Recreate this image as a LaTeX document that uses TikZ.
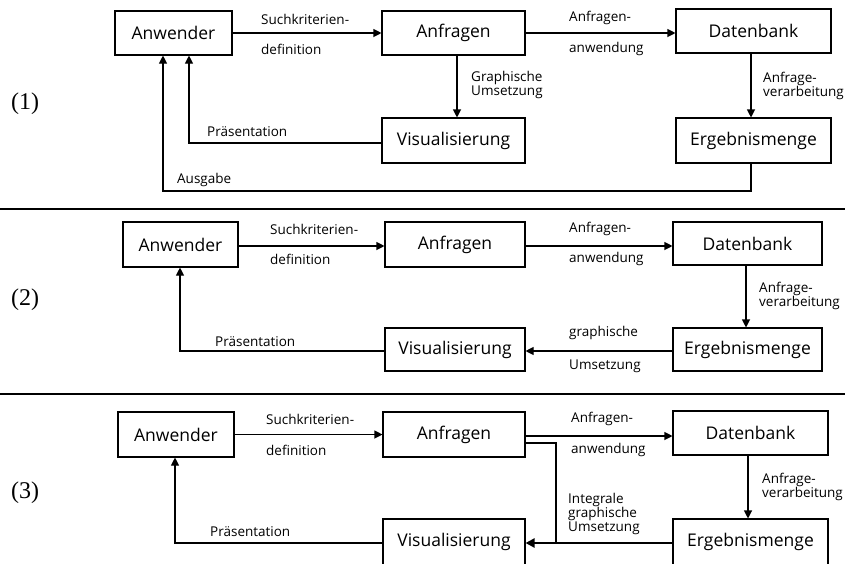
\documentclass[tikz,border=0pt]{standalone}
\usepackage{fontspec}
\setmainfont{Open Sans}
\newfontfamily\panelfont{Liberation Serif}
\usetikzlibrary{arrows.meta}
\begin{document}
\begin{tikzpicture}[x=1pt,y=-1pt,
  box/.style={draw,line width=1.1pt,minimum height=44pt,inner sep=0pt,
    font=\fontsize{17.5}{19}\selectfont},
  lbl/.style={anchor=west,inner sep=0pt,font=\fontsize{13.5}{12.5}\selectfont},
  stack/.style={lbl,align=left},
  flow/.style={line width=1.1pt},
  arr/.style={flow,-{Triangle[length=8pt,width=8pt]}},
  sep/.style={line width=2.4pt},
  panel/.style={anchor=west,inner sep=0pt,font=\panelfont\fontsize{24}{26}\selectfont}]
\useasboundingbox (0,0) rectangle (845,563);
\clip (0,0) rectangle (845,563);

% ---------- (1) ----------
\node[panel] (p1) at (11,104) {(1)};
\node[box,minimum width=117pt] (a1) at (173.5,33) {Anwender};
\node[box,minimum width=143pt] (q1) at (453.5,33) {Anfragen};
\node[box,minimum width=155pt] (d1) at (753.5,31) {Datenbank};
\node[box,minimum width=143pt,minimum height=45pt] (v1) at (453.5,140.5) {Visualisierung};
\node[box,minimum width=155pt,minimum height=45pt] (e1) at (753.5,140.5) {Ergebnismenge};

\draw[arr] (a1.east) -- (q1.west);
\draw[arr] (q1.east) -- (q1.east -| d1.west);
\draw[arr] ([xshift=3.5pt]q1.south) -- ([xshift=3.5pt]v1.north);
\draw[arr] ([xshift=-2.5pt]d1.south) -- ([xshift=-2.5pt]e1.north);
\draw[arr] ([yshift=-2.5pt]v1.west) -| ([xshift=15.5pt]a1.south);
\coordinate (k1) at (163,191);
\draw[arr] ([xshift=-2.5pt]e1.south) |- (k1) -- (k1 |- a1.south);

\node[lbl] (l1a) at (261,19) {Suchkriterien-};
\node[lbl] (l1b) at (261,49) {definition};
\node[lbl] (l1c) at (569,18) {Anfragen-};
\node[lbl] (l1d) at (569,49) {anwendung};
\node[stack] (l1e) at (471,85) {Graphische\\Umsetzung};
\node[stack] (l1f) at (763,86) {Anfrage-\\verarbeitung};
\node[lbl] (l1g) at (207,132) {Präsentation};
\node[lbl] (l1h) at (177,180) {Ausgabe};

\draw[sep] (0,209) -- (845,209);

% ---------- (2) ----------
\node[panel] (p2) at (11,300) {(2)};
\node[box,minimum width=115pt,minimum height=45pt] (a2) at (180.5,244.5) {Anwender};
\node[box,minimum width=140pt,minimum height=45pt] (q2) at (455,244.5) {Anfragen};
\node[box,minimum width=149pt,minimum height=43pt] (d2) at (747.5,243.5) {Datenbank};
\node[box,minimum width=140pt,minimum height=43pt] (v2) at (455,349.5) {Visualisierung};
\node[box,minimum width=149pt,minimum height=43pt] (e2) at (747.5,349.5) {Ergebnismenge};

\draw[arr] ([yshift=-1.5pt]a2.east) -- ([yshift=-1.5pt]q2.west);
\draw[arr] ([yshift=-1.5pt]q2.east) -- ([yshift=-1.5pt]q2.east -| d2.west);
\draw[arr] ([xshift=-1.5pt]d2.south) -- ([xshift=-1.5pt]e2.north);
\draw[arr] ([yshift=-1.5pt]e2.west) -- ([yshift=-1.5pt]v2.east);
\draw[arr] ([yshift=-1.5pt]v2.west) -| ([xshift=-0.5pt]a2.south);

\node[lbl] (l2a) at (270,229) {Suchkriterien-};
\node[lbl] (l2b) at (270,259) {definition};
\node[lbl] (l2c) at (569,229) {Anfragen-};
\node[lbl] (l2d) at (569,259) {anwendung};
\node[stack] (l2e) at (759,296) {Anfrage-\\verarbeitung};
\node[lbl] (l2f) at (569,333) {graphische};
\node[lbl] (l2g) at (569,366) {Umsetzung};
\node[lbl] (l2h) at (215,342) {Präsentation};

\draw[sep] (0,394) -- (845,394);

% ---------- (3) ----------
\node[panel] (p3) at (11,493) {(3)};
\node[box,minimum width=116pt,minimum height=45pt] (a3) at (176,434.5) {Anwender};
\node[box,minimum width=142pt,minimum height=45pt] (q3) at (454,434.5) {Anfragen};
\node[box,minimum width=155pt,minimum height=44pt] (d3) at (750.5,433) {Datenbank};
\node[box,minimum width=142pt,minimum height=46pt] (v3) at (454,542) {Visualisierung};
\node[box,minimum width=155pt,minimum height=46pt] (e3) at (750.5,542) {Ergebnismenge};

\draw[arr] (a3.east) -- (q3.west);
\draw[arr] ([yshift=-1.5pt]q3.east) -- ([yshift=-1.5pt]q3.east -| d3.west);
% integrated path: from the query box straight down to the visualisation
\coordinate (j3) at (556,543);
\draw[flow] ([yshift=-8.5pt]q3.east) -| (j3);
\draw[flow] (e3.west |- j3) -- (j3);
\draw[line width=2.4pt,-{Triangle[length=9pt,width=9pt]}] (j3) -- (v3.east |- j3);
\draw[arr] ([xshift=-2.5pt]d3.south) -- ([xshift=-2.5pt]e3.north);
\draw[arr] (v3.west |- j3) -| ([xshift=-1pt]a3.south);

\node[lbl] (l3a) at (266,419) {Suchkriterien-};
\node[lbl] (l3b) at (266,450) {definition};
\node[lbl] (l3c) at (571,419) {Anfragen-};
\node[lbl] (l3d) at (571,450) {anwendung};
\node[stack] (l3e) at (762,487) {Anfrage-\\verarbeitung};
\node[stack] (l3f) at (568,514) {Integrale\\graphische\\Umsetzung};
\node[lbl] (l3g) at (210,532) {Präsentation};
\end{tikzpicture}
\end{document}
